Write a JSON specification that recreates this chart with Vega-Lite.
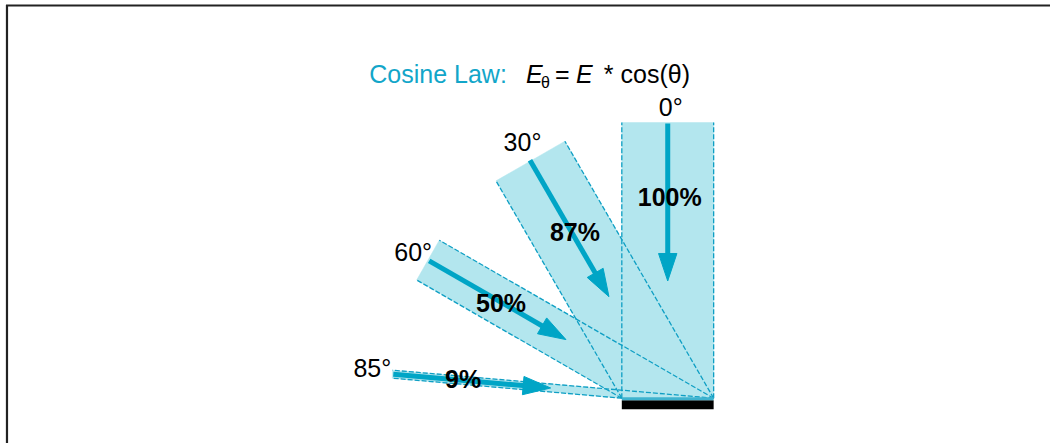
{
  "$schema": "https://vega.github.io/schema/vega-lite/v6.json",
  "width": 1052,
  "height": 445,
  "autosize": {"type": "fit", "contains": "padding"},
  "padding": 0,
  "background": "white",
  "config": {"view": {"stroke": null}},
  "datasets": {
    "beams": [
      {"beam": "0", "o": 1, "x": 0, "y": 0}, {"beam": "0", "o": 2, "x": 0, "y": 3.01}, {"beam": "0", "o": 3, "x": 1, "y": 3.01}, {"beam": "0", "o": 4, "x": 1, "y": 0},
      {"beam": "30", "o": 1, "x": 0, "y": 0}, {"beam": "30", "o": 2, "x": -1.37, "y": 2.373}, {"beam": "30", "o": 3, "x": -0.62, "y": 2.806}, {"beam": "30", "o": 4, "x": 1, "y": 0},
      {"beam": "60", "o": 1, "x": 0, "y": 0}, {"beam": "60", "o": 2, "x": -2.234, "y": 1.29}, {"beam": "60", "o": 3, "x": -1.988, "y": 1.725}, {"beam": "60", "o": 4, "x": 1, "y": 0},
      {"beam": "85", "o": 1, "x": 0, "y": 0}, {"beam": "85", "o": 2, "x": -2.5005, "y": 0.2188}, {"beam": "85", "o": 3, "x": -2.4967, "y": 0.3061}, {"beam": "85", "o": 4, "x": 1, "y": 0}
    ],
    "edges": [
      {"e": "0a", "o": 1, "x": 0, "y": 0}, {"e": "0a", "o": 2, "x": 0, "y": 3.01},
      {"e": "0b", "o": 1, "x": 1, "y": 0}, {"e": "0b", "o": 2, "x": 1, "y": 3.01},
      {"e": "30a", "o": 1, "x": 0, "y": 0}, {"e": "30a", "o": 2, "x": -1.37, "y": 2.373},
      {"e": "30b", "o": 1, "x": 1, "y": 0}, {"e": "30b", "o": 2, "x": -0.62, "y": 2.806},
      {"e": "60a", "o": 1, "x": 0, "y": 0}, {"e": "60a", "o": 2, "x": -2.234, "y": 1.29},
      {"e": "60b", "o": 1, "x": 1, "y": 0}, {"e": "60b", "o": 2, "x": -1.988, "y": 1.725},
      {"e": "85a", "o": 1, "x": 0, "y": 0}, {"e": "85a", "o": 2, "x": -2.5005, "y": 0.2188},
      {"e": "85b", "o": 1, "x": 1, "y": 0}, {"e": "85b", "o": 2, "x": -2.4967, "y": 0.3061}
    ],
    "shafts": [
      {"a": "0", "o": 1, "x": 0.5, "y": 3.0}, {"a": "0", "o": 2, "x": 0.5, "y": 1.55},
      {"a": "30", "o": 1, "x": -1.0, "y": 2.598}, {"a": "30", "o": 2, "x": -0.275, "y": 1.342},
      {"a": "60", "o": 1, "x": -2.098, "y": 1.5}, {"a": "60", "o": 2, "x": -0.8423, "y": 0.775},
      {"a": "85", "o": 1, "x": -2.4886, "y": 0.2616}, {"a": "85", "o": 2, "x": -1.0441, "y": 0.1352}
    ],
    "heads": [
      {"a": "0", "o": 1, "x": 0.4, "y": 1.58}, {"a": "0", "o": 2, "x": 0.5, "y": 1.28}, {"a": "0", "o": 3, "x": 0.6, "y": 1.58},
      {"a": "30", "o": 1, "x": -0.2034, "y": 1.4183}, {"a": "30", "o": 2, "x": -0.14, "y": 1.1085}, {"a": "30", "o": 3, "x": -0.3766, "y": 1.3183},
      {"a": "60", "o": 1, "x": -0.8183, "y": 0.8766}, {"a": "60", "o": 2, "x": -0.6085, "y": 0.64}, {"a": "60", "o": 3, "x": -0.9183, "y": 0.7034},
      {"a": "85", "o": 1, "x": -1.0653, "y": 0.2374}, {"a": "85", "o": 2, "x": -0.7751, "y": 0.1116}, {"a": "85", "o": 3, "x": -1.0827, "y": 0.0382}
    ]
  },
  "encoding": {
    "x": {"field": "x", "type": "quantitative", "axis": null, "scale": {"domain": [-6.77174, 4.66304], "nice": false, "zero": false}},
    "y": {"field": "y", "type": "quantitative", "axis": null, "scale": {"domain": [-0.48913, 4.34783], "nice": false, "zero": false}}
  },
  "layer": [
    {
      "data": {"values": [
        {"x": -6.6957, "y": 4.2935, "x2": -6.6957, "y2": -0.4891},
        {"x": -6.7065, "y": 4.288, "x2": 4.663, "y2": 4.288}
      ]},
      "mark": {"type": "rule", "color": "#222222", "strokeWidth": 2.2},
      "encoding": {"x2": {"field": "x2"}, "y2": {"field": "y2"}}
    },
    {
      "data": {"name": "beams"},
      "mark": {"type": "line", "fill": "#b3e6ee", "stroke": "#b3e6ee", "strokeWidth": 0.5, "interpolate": "linear-closed"},
      "encoding": {"detail": {"field": "beam"}, "order": {"field": "o"}}
    },
    {
      "data": {"name": "edges"},
      "mark": {"type": "line", "color": "#0f9fc4", "strokeWidth": 1.3, "strokeDash": [5, 2]},
      "encoding": {"detail": {"field": "e"}, "order": {"field": "o"}}
    },
    {
      "data": {"values": [{"x": 0, "x2": 1, "y": -0.0217, "y2": -0.1196}]},
      "mark": {"type": "rect", "color": "#000000"},
      "encoding": {"x2": {"field": "x2"}, "y2": {"field": "y2"}}
    },
    {
      "data": {"values": [{"x": 0, "x2": 1, "y": 0.01, "y2": -0.0217}]},
      "mark": {"type": "rect", "color": "#3fb3cf"},
      "encoding": {"x2": {"field": "x2"}, "y2": {"field": "y2"}}
    },
    {
      "data": {"name": "shafts"},
      "mark": {"type": "line", "color": "#00a5c6", "strokeWidth": 5, "strokeCap": "butt"},
      "encoding": {"detail": {"field": "a"}, "order": {"field": "o"}}
    },
    {
      "data": {"name": "heads"},
      "mark": {"type": "line", "fill": "#00a5c6", "stroke": "#00a5c6", "strokeWidth": 1, "interpolate": "linear-closed"},
      "encoding": {"detail": {"field": "a"}, "order": {"field": "o"}}
    },
    {
      "data": {"values": [
        {"t": "0°", "x": 0.5326, "y": 3.0761},
        {"t": "30°", "x": -1.0815, "y": 2.6957},
        {"t": "60°", "x": -2.2717, "y": 1.5},
        {"t": "85°", "x": -2.7174, "y": 0.2283}
      ]},
      "mark": {"type": "text", "font": "Liberation Sans", "fontSize": 25, "align": "center", "baseline": "alphabetic", "color": "#000000"},
      "encoding": {"text": {"field": "t"}}
    },
    {
      "data": {"values": [
        {"t": "100%", "x": 0.5217, "y": 2.0978},
        {"t": "87%", "x": -0.5109, "y": 1.7174},
        {"t": "50%", "x": -1.3152, "y": 0.9457},
        {"t": "9%", "x": -1.7283, "y": 0.1087}
      ]},
      "mark": {"type": "text", "font": "Liberation Sans", "fontSize": 25, "fontWeight": "bold", "align": "center", "baseline": "alphabetic", "color": "#000000"},
      "encoding": {"text": {"field": "t"}}
    },
    {
      "data": {"values": [{"t": "Cosine Law:", "x": -2.75, "y": 3.4457}]},
      "mark": {"type": "text", "font": "Liberation Sans", "fontSize": 25, "align": "left", "baseline": "alphabetic", "color": "#12a6c9"},
      "encoding": {"text": {"field": "t"}}
    },
    {
      "data": {"values": [
        {"t": "E", "x": -1.0435, "y": 3.4457},
        {"t": "E", "x": -0.5, "y": 3.4457}
      ]},
      "mark": {"type": "text", "font": "Liberation Sans", "fontSize": 25, "fontStyle": "italic", "align": "left", "baseline": "alphabetic", "color": "#000000"},
      "encoding": {"text": {"field": "t"}}
    },
    {
      "data": {"values": [
        {"t": "=", "x": -0.7283, "y": 3.4457},
        {"t": "* cos(θ)", "x": -0.1957, "y": 3.4457}
      ]},
      "mark": {"type": "text", "font": "Liberation Sans", "fontSize": 25, "align": "left", "baseline": "alphabetic", "color": "#000000"},
      "encoding": {"text": {"field": "t"}}
    },
    {
      "data": {"values": [{"t": "θ", "x": -0.8804, "y": 3.3913}]},
      "mark": {"type": "text", "font": "Liberation Sans", "fontSize": 16, "align": "left", "baseline": "alphabetic", "color": "#000000"},
      "encoding": {"text": {"field": "t"}}
    }
  ]
}
